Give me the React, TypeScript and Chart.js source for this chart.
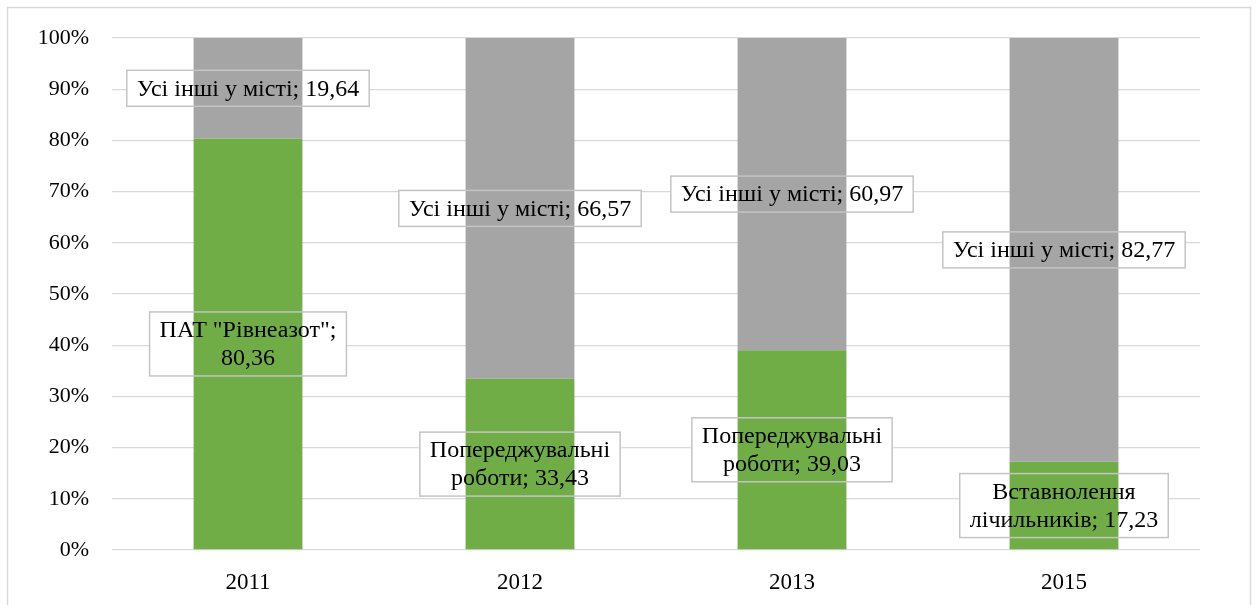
import React, { useEffect, useRef } from "react";
import { Chart, registerables } from "chart.js";

Chart.register(...registerables);

const categories = ["2011", "2012", "2013", "2015"];
const mainNames = [
  'ПАТ "Рівнеазот"',
  "Попереджувальні роботи",
  "Попереджувальні роботи",
  "Вставнолення лічильників",
];
const mainValues = [80.36, 33.43, 39.03, 17.23];
const otherName = "Усі інші у місті";
const otherValues = [19.64, 66.57, 60.97, 82.77];
const yTickStep = 10;

const FONT_FAMILY = '"Liberation Serif", "Times New Roman", serif';
const LABEL_SIZE = 24;
const LINE_H = 28;
const W = 1258;
const H = 605;

const fmt = (v: number) => v.toFixed(2).replace(".", ",");

function wrap(ctx: CanvasRenderingContext2D, text: string, maxW: number): string[] {
  const words = text.split(" ");
  const lines: string[] = [];
  let cur = "";
  for (const w of words) {
    const test = cur ? cur + " " + w : w;
    if (cur && ctx.measureText(test).width > maxW) {
      lines.push(cur);
      cur = w;
    } else {
      cur = test;
    }
  }
  if (cur) lines.push(cur);
  return lines;
}

type Box = { x: number; y: number; w: number; h: number; lines: string[]; cx: number; cy: number };

function computeBoxes(chart: any): Box[] {
  const ctx: CanvasRenderingContext2D = chart.ctx;
  ctx.save();
  ctx.font = `${LABEL_SIZE}px ${FONT_FAMILY}`;
  const boxes: Box[] = [];
  chart.data.datasets.forEach((ds: any, di: number) => {
    const meta = chart.getDatasetMeta(di);
    meta.data.forEach((el: any, i: number) => {
      const name = di === 0 ? mainNames[i] : otherName;
      const text = `${name}; ${fmt(ds.data[i])}`;
      const lines = wrap(ctx, text, di === 0 ? 215 : 290);
      const tw = Math.max(...lines.map((l) => ctx.measureText(l).width));
      const w = tw + 20;
      const h = lines.length * LINE_H + 8;
      const cx = el.x;
      const cy = (el.y + el.base) / 2;
      boxes.push({ x: cx - w / 2, y: cy - h / 2, w, h, lines, cx, cy });
    });
  });
  ctx.restore();
  return boxes;
}

const frameAndLabels = {
  id: "boxLabels",
  beforeDraw(chart: any) {
    const ctx = chart.ctx;
    ctx.save();
    ctx.fillStyle = "#fff";
    ctx.fillRect(0, 0, W, H);
    ctx.strokeStyle = "#d9d9d9";
    ctx.lineWidth = 1.5;
    ctx.strokeRect(7.5, 7.5, W - 15, H + 10);
    ctx.restore();
  },
  beforeDatasetsDraw(chart: any) {
    const boxes = computeBoxes(chart);
    (chart as any).$boxes = boxes;
    const ctx = chart.ctx;
    ctx.save();
    ctx.fillStyle = "#ffffff";
    boxes.forEach((b) => ctx.fillRect(b.x, b.y, b.w, b.h));
    ctx.restore();
  },
  afterDatasetsDraw(chart: any) {
    const boxes: Box[] = (chart as any).$boxes || [];
    const ctx = chart.ctx;
    ctx.save();
    ctx.strokeStyle = "#c4c4c4";
    ctx.lineWidth = 1.5;
    ctx.font = `${LABEL_SIZE}px ${FONT_FAMILY}`;
    ctx.fillStyle = "#000000";
    ctx.textAlign = "center";
    ctx.textBaseline = "middle";
    boxes.forEach((b) => {
      ctx.strokeRect(b.x, b.y, b.w, b.h);
      const top = b.cy - ((b.lines.length - 1) * LINE_H) / 2;
      b.lines.forEach((l, k) => ctx.fillText(l, b.cx, top + k * LINE_H + 1));
    });
    ctx.restore();
  },
};

export default function App() {
  const ref = useRef<HTMLCanvasElement>(null);

  useEffect(() => {
    document.body.style.margin = "0";
    if (!ref.current) return;
    const chart = new Chart(ref.current, {
      type: "bar",
      data: {
        labels: categories,
        datasets: [
          {
            label: "main",
            data: mainValues,
            backgroundColor: "#70AD47",
            barPercentage: 0.4,
            categoryPercentage: 1,
          },
          {
            label: otherName,
            data: otherValues,
            backgroundColor: "#A5A5A5",
            barPercentage: 0.4,
            categoryPercentage: 1,
          },
        ],
      },
      options: {
        responsive: false,
        animation: false,
        layout: { padding: { top: 38, right: 58, left: 0, bottom: 0 } },
        plugins: { legend: { display: false }, tooltip: { enabled: false } },
        scales: {
          x: {
            stacked: true,
            grid: { display: false },
            border: { display: false },
            ticks: { font: { family: FONT_FAMILY, size: 23 }, color: "#000", padding: 11 },
            afterFit: (s: any) => {
              s.height = 55;
              s.paddingLeft = 0;
              s.paddingRight = 0;
            },
          },
          y: {
            stacked: true,
            min: 0,
            max: 100,
            ticks: {
              stepSize: yTickStep,
              callback: (v: any) => `${v}%`,
              font: { family: FONT_FAMILY, size: 22 },
              color: "#000",
              padding: 23,
            },
            grid: { color: "#d9d9d9", lineWidth: 1.3, drawTicks: false },
            border: { display: false },
            afterFit: (s: any) => {
              s.width = 112;
              s.paddingTop = 0;
              s.paddingBottom = 0;
            },
          },
        },
      },
      plugins: [frameAndLabels],
    } as any);
    return () => chart.destroy();
  }, []);

  return <canvas ref={ref} width={W} height={H} style={{ display: "block" }} />;
}
